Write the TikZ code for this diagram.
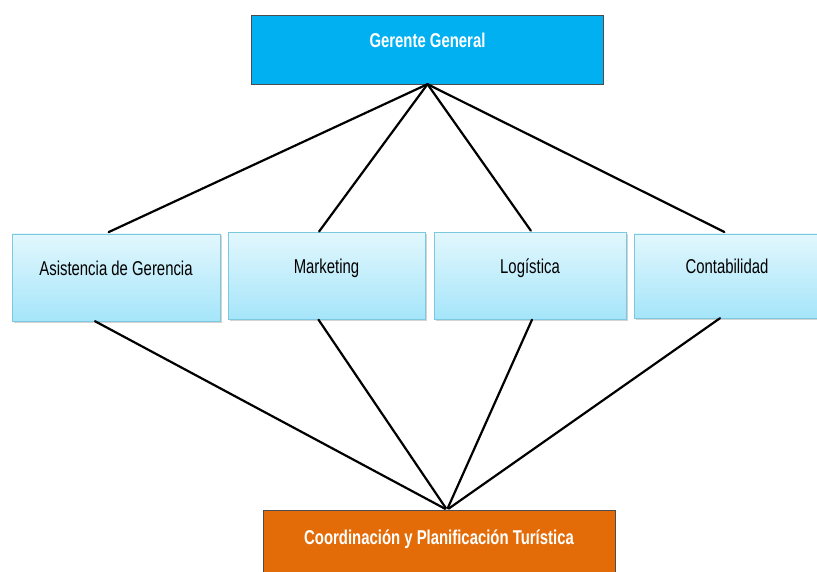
\documentclass[tikz,border=0pt]{standalone}
\usepackage{fontspec}
\newfontfamily\narrow[FakeStretch=0.745]{Liberation Sans}
\usepackage{xcolor}
\usetikzlibrary{shadows}
\definecolor{cyanbox}{HTML}{00B0F0}
\definecolor{orangebox}{HTML}{E36C09}
\definecolor{lighttop}{HTML}{E2F7FD}
\definecolor{lightbot}{HTML}{A5E5FA}
\definecolor{lightedge}{HTML}{7CC8DE}

\begin{document}
\begin{tikzpicture}[x = 1pt, y = -1pt,
        every node/.style = {font = \narrow\fontsize{20}{24}\selectfont, inner sep = 0pt},
          head/.style = {draw = black!70, fill = #1, text = white,
                         font = \narrow\bfseries\fontsize{20}{24}\selectfont,
                         minimum width = 352pt, minimum height = 69pt,
                         text height = 14pt, text depth = 17pt},
          area/.style = {draw = lightedge, top color = lighttop, bottom color = lightbot,
                         drop shadow = {shadow xshift = 1.5pt, shadow yshift = -1.5pt, opacity = 0.35},
                         minimum height = 87pt, text height = 14pt, text depth = 18pt},
          link/.style = {line width = 2.2pt, line cap = round}
        ]
        \useasboundingbox (0,0) rectangle (817,572);
        % boxes
        \node[head = cyanbox] (gerente) at (427.5,49.5) {Gerente General};
        \node[area, minimum width = 208pt] (asistencia) at (116,277.5) {Asistencia de Gerencia};
        \node[area, minimum width = 197pt] (marketing) at (326.5,276) {Marketing};
        \node[area, minimum width = 192pt] (logistica) at (530,276) {Logística};
        \node[area, minimum width = 186pt, minimum height = 84pt] (contabilidad) at (727,276) {Contabilidad};
        \node[head = orangebox, minimum height = 70pt, text depth = 16pt] (coordinacion) at (439,545) {Coordinación y Planificación Turística};
        % lines up
        \draw[link, shorten > = 4pt] (gerente.south) -- ([xshift = -11pt]asistencia.north);
        \draw[link, shorten > = 1pt] (gerente.south) -- ([xshift = -8pt]marketing.north);
        \draw[link, shorten > = 2pt] (gerente.south) -- ([xshift = 2pt]logistica.north);
        \draw[link, shorten > = 4pt] (gerente.south) -- ([xshift = 1pt]contabilidad.north);
        % lines down
        \draw[link, shorten > = 2pt] ([xshift = -21pt]asistencia.south) -- ([xshift = 8pt]coordinacion.north);
        \draw[link, shorten > = 2pt] ([xshift = -8pt]marketing.south) -- ([xshift = 8pt]coordinacion.north);
        \draw[link, shorten > = 2pt] ([xshift = 2pt]logistica.south) -- ([xshift = 8pt]coordinacion.north);
        \draw[link, shorten > = 2pt] ([xshift = -7pt]contabilidad.south) -- ([xshift = 8pt]coordinacion.north);
\end{tikzpicture}
\end{document}
